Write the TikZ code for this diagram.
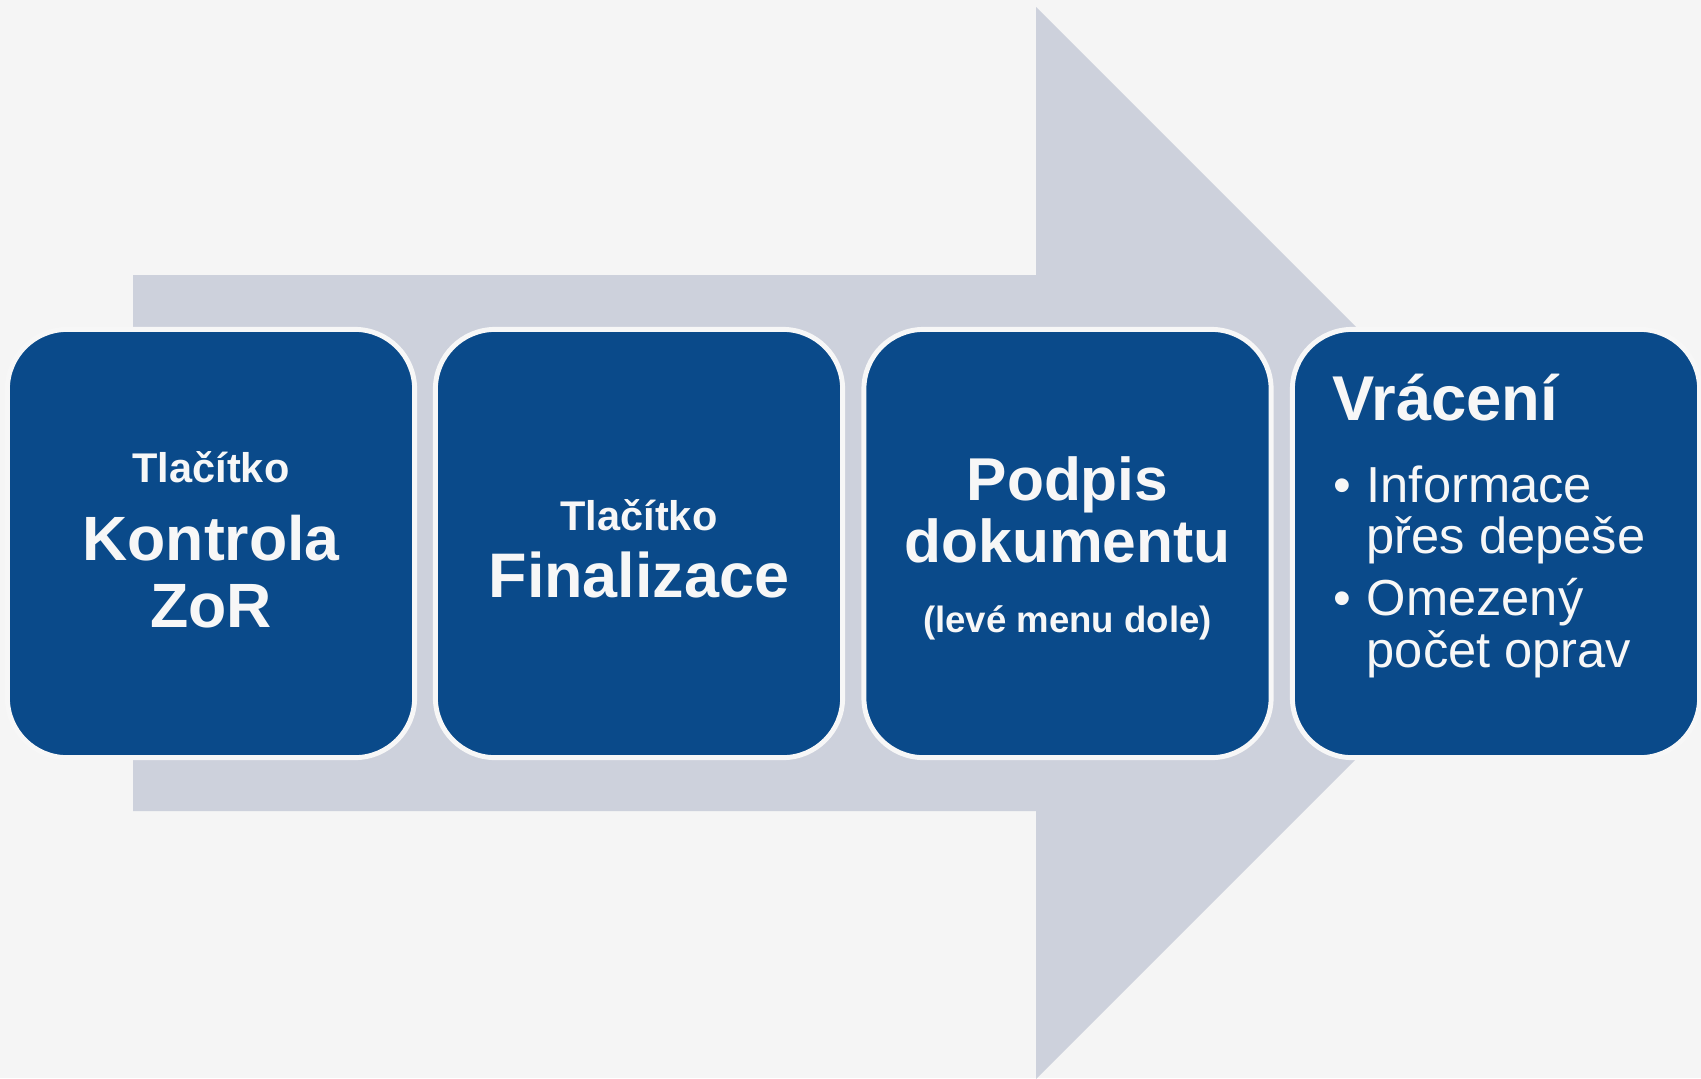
\documentclass[tikz,border=0pt]{standalone}
\usepackage{fontspec}
\setmainfont{Liberation Sans}
\definecolor{bgcol}{HTML}{F5F5F5}
\definecolor{arrowgray}{HTML}{CDD1DC}
\definecolor{stepblue}{HTML}{0A4A8A}
\definecolor{steplight}{HTML}{F7F7F7}
\tikzset{
  stepbox/.style={draw=steplight, line width=1.4pt, fill=stepblue, rounded corners=17pt,
    minimum width=4.07cm, minimum height=4.28cm, inner sep=0pt},
  steptext/.style={text=steplight, inner sep=0pt, anchor=base},
  itemtext/.style={text=steplight, inner sep=0pt, anchor=base west,
    font=\fontsize{14.4}{16}\selectfont},
}
\newcommand{\bfsize}[1]{\bfseries\fontsize{#1}{#1}\selectfont}
\begin{document}
\begin{tikzpicture}[x=0.01cm, y=-0.01cm]
      \useasboundingbox (0,0) rectangle (1701,1078);
      \fill[bgcol] (0,0) rectangle (1701,1078);
      \coordinate (S1) at (133,275);
      \coordinate (H1) at (1036,275);
      \coordinate (H2) at (1036,7);
      \coordinate (T) at (1572,543);
      \coordinate (H3) at (1036,1079);
      \coordinate (H4) at (1036,811);
      \coordinate (S2) at (133,811);

      % ARROW
      \fill[arrowgray] (S1) -- (H1) -- (H2) -- (T) -- (H3) -- (H4) -- (S2) -- cycle;

      % BOXES
      \node[stepbox] (kontrola) at (211,543.5) {};
      \node[stepbox] (finalizace) at (639,543.5) {};
      \node[stepbox] (podpis) at (1067.5,543.5) {};
      \node[stepbox] (vraceni) at (1496,543.5) {};

      % TEXT
      \node[steptext, font=\bfsize{11.8}] (k1) at (211,482) {Tlačítko};
      \node[steptext, font=\bfsize{17.8}] (k2) at (211,560) {Kontrola};
      \node[steptext, font=\bfsize{17.8}] (k3) at (211,627) {ZoR};

      \node[steptext, font=\bfsize{11.8}] (f1) at (639,530) {Tlačítko};
      \node[steptext, font=\bfsize{17.9}] (f2) at (639,597) {Finalizace};

      \node[steptext, font=\bfsize{17.2}] (p1) at (1067.5,500) {Podpis};
      \node[steptext, font=\bfsize{17.2}] (p2) at (1067.5,562) {dokumentu};
      \node[steptext, font=\bfsize{10.4}] (p3) at (1067.5,632) {(levé menu dole)};

      \node[steptext, anchor=base west, font=\bfsize{18}] (v0) at (1332,420) {Vrácení};
      \node[itemtext] (b1) at (1333,502) {•};
      \node[itemtext] (v1) at (1366,502) {Informace};
      \node[itemtext] (v2) at (1366,553) {přes depeše};
      \node[itemtext] (b2) at (1333,615) {•};
      \node[itemtext] (v3) at (1366,615) {Omezený};
      \node[itemtext] (v4) at (1366,667) {počet oprav};
    \end{tikzpicture}
\end{document}
